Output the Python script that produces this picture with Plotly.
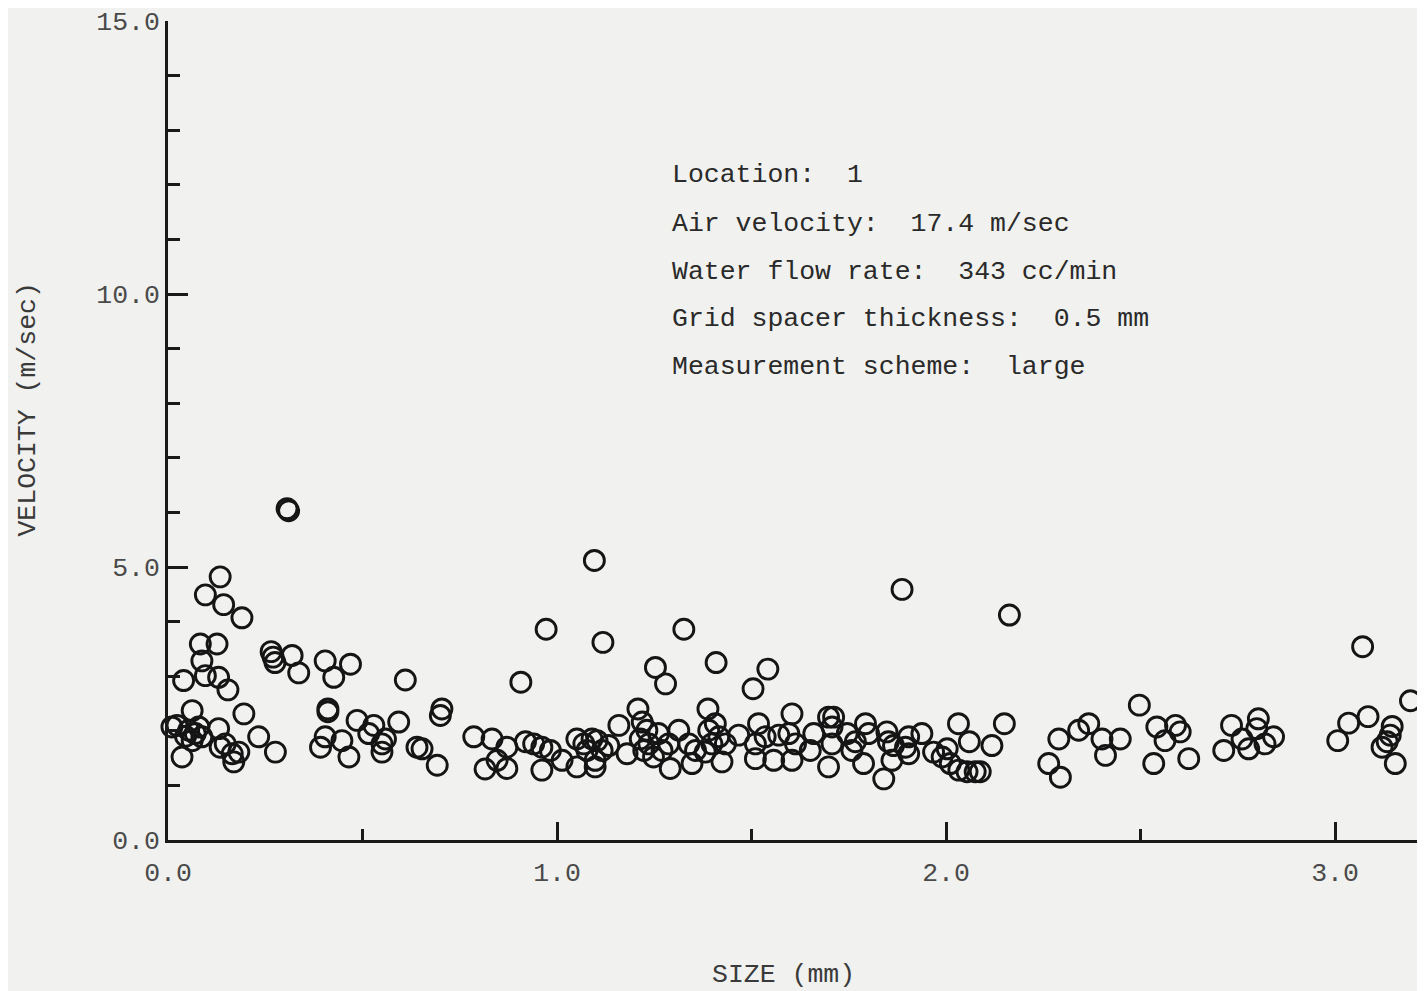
import plotly.graph_objects as go

size_mm = [
    0.310, 0.306, 0.134, 0.096, 0.143, 0.190, 0.083, 0.126, 0.087, 0.096, 0.040, 0.130, 0.154,
    0.265, 0.270, 0.275, 0.319, 0.336, 0.404, 0.469, 0.426, 0.610, 0.411, 0.411, 0.486, 0.529,
    0.516, 0.550, 0.593, 0.704, 0.700, 0.786, 0.815, 0.062, 0.023, 0.053, 0.079, 0.087, 0.062,
    0.070, 0.045, 0.036, 0.130, 0.134, 0.165, 0.182, 0.147, 0.169, 0.195, 0.233, 0.276, 0.404,
    0.392, 0.447, 0.465, 0.559, 0.550, 0.640, 0.653, 0.692, 0.010,
    1.096, 0.972, 1.118, 1.326, 0.907, 1.253, 1.279, 1.409, 1.542, 1.504, 1.208, 1.388, 1.604,
    1.698, 1.711, 0.833, 0.871, 0.846, 0.871, 0.919, 0.940, 0.961, 0.961, 0.983, 1.013,
    1.051, 1.069, 1.090, 1.103, 1.051, 1.098, 1.098, 1.077, 1.116, 1.133, 1.159, 1.180,
    1.219, 1.231, 1.214, 1.236, 1.223, 1.248, 1.261, 1.287, 1.270, 1.291, 1.313, 1.339, 1.356, 1.347,
    1.390, 1.407, 1.416, 1.398, 1.381, 1.433, 1.424, 1.467, 1.518, 1.510, 1.535, 1.510, 1.557,
    1.570, 1.596, 1.613, 1.604, 1.660, 1.651, 1.698, 1.707,
    1.887, 2.163, 2.497, 2.032, 2.150, 2.060, 2.118, 1.707, 1.793, 1.801, 1.746, 1.767, 1.758,
    1.848, 1.852, 1.865, 1.904, 1.896, 1.938, 1.904, 1.788, 1.840, 1.861, 1.968, 2.003, 1.990,
    2.011, 2.033, 2.054, 2.075, 2.088, 2.290, 2.264, 2.294, 2.341, 2.367, 2.401, 2.410, 2.448,
    2.542, 2.563, 2.590, 2.602, 2.534, 2.624, 2.714, 2.734, 2.761, 2.778, 2.803, 2.799, 2.820, 2.842,
    3.071, 3.194, 3.007, 3.035, 3.085, 3.147, 3.142, 3.134, 3.121, 3.155,
]

velocity = [
    6.03, 6.07, 4.82, 4.49, 4.31, 4.07, 3.59, 3.59, 3.28, 3.01, 2.92, 2.98, 2.75,
    3.45, 3.35, 3.25, 3.38, 3.06, 3.28, 3.22, 2.98, 2.93, 2.40, 2.35, 2.19, 2.10,
    1.95, 1.76, 2.16, 2.40, 2.28, 1.89, 1.30, 2.37, 2.10, 2.01, 2.07, 1.89, 1.82,
    1.95, 1.90, 1.52, 2.04, 1.70, 1.58, 1.61, 1.76, 1.43, 2.31, 1.89, 1.61, 1.89,
    1.70, 1.82, 1.52, 1.85, 1.61, 1.70, 1.67, 1.37, 2.07,
    5.12, 3.86, 3.62, 3.86, 2.89, 3.16, 2.86, 3.25, 3.13, 2.77, 2.40, 2.40, 2.31,
    2.25, 2.25, 1.85, 1.70, 1.46, 1.31, 1.80, 1.76, 1.70, 1.28, 1.64, 1.46,
    1.85, 1.76, 1.85, 1.82, 1.34, 1.34, 1.46, 1.64, 1.64, 1.73, 2.10, 1.58,
    2.16, 2.01, 1.85, 1.76, 1.64, 1.52, 1.95, 1.76, 1.64, 1.31, 2.01, 1.76, 1.64, 1.40,
    2.01, 2.13, 1.89, 1.76, 1.61, 1.76, 1.43, 1.92, 2.13, 1.76, 1.89, 1.49, 1.46,
    1.92, 1.95, 1.76, 1.46, 1.95, 1.64, 1.34, 1.76,
    4.59, 4.12, 2.47, 2.13, 2.13, 1.80, 1.73, 2.07, 2.13, 1.95, 1.95, 1.80, 1.64,
    1.98, 1.80, 1.73, 1.89, 1.70, 1.95, 1.58, 1.40, 1.12, 1.46, 1.61, 1.67, 1.52,
    1.40, 1.28, 1.25, 1.25, 1.25, 1.85, 1.40, 1.15, 2.01, 2.13, 1.85, 1.55, 1.85,
    2.07, 1.82, 2.10, 1.98, 1.40, 1.49, 1.64, 2.10, 1.85, 1.67, 2.22, 2.04, 1.76, 1.89,
    3.54, 2.55, 1.82, 2.14, 2.26, 2.08, 1.92, 1.80, 1.70, 1.40,
]

x_ticks = [0.0, 1.0, 2.0, 3.0]
x_tick_labels = ["0.0", "1.0", "2.0", "3.0"]
y_ticks = [0.0, 5.0, 10.0, 15.0]
y_tick_labels = ["0.0", "5.0", "10.0", "15.0"]

info_lines = [
    "Location:  1",
    "Air velocity:  17.4 m/sec",
    "Water flow rate:  343 cc/min",
    "Grid spacer thickness:  0.5 mm",
    "Measurement scheme:  large",
]

FONT = "Liberation Mono, Courier New, monospace"
BG = "#f1f1ef"
FS = 26.5

# page body has an 8px margin; the figure is sized so it ends at the window edge
OFF = 8
W, H = 1425 - OFF, 991 - OFF
ML, MR, MT, MB = 168 - OFF, 0, 18 - OFF, H - (840 - OFF)
PW, PH = W - ML - MR, H - MT - MB

def px_x(p):
    return (p - OFF - ML) / PW

def px_y(p):
    return (H - MB - (p - OFF)) / PH

fig = go.Figure()
fig.add_trace(go.Scatter(
    x=size_mm, y=velocity, mode="markers",
    marker=dict(symbol="circle-open", size=20, color="#151515", line=dict(width=2.9, color="#151515")),
    cliponaxis=False, showlegend=False,
))

x_max = PW / 389.0
EPS = 1e-4

fig.update_layout(
    width=W, height=H,
    margin=dict(l=ML, r=MR, t=MT, b=MB),
    paper_bgcolor=BG, plot_bgcolor=BG,
    font=dict(family=FONT, size=FS, color="#4a4a4a"),
    xaxis=dict(
        range=[-EPS, x_max], showgrid=False, zeroline=False,
        showline=True, linecolor="#1a1a1a", linewidth=2.5,
        tickmode="array", tickvals=x_ticks, ticktext=x_tick_labels,
        ticks="inside", ticklen=18, tickwidth=2.5, tickcolor="#1a1a1a",
        minor=dict(ticks="inside", dtick=0.5, ticklen=11, tickwidth=2.5, tickcolor="#1a1a1a"),
        tickfont=dict(family=FONT, size=FS, color="#4a4a4a"),
        ticklabelstandoff=6, ticklabeloverflow="allow",
    ),
    yaxis=dict(
        range=[-EPS, 15 + EPS], showgrid=False, zeroline=False,
        showline=True, linecolor="#1a1a1a", linewidth=2.5,
        tickmode="array", tickvals=y_ticks, ticktext=y_tick_labels,
        ticks="inside", ticklen=20, tickwidth=2.5, tickcolor="#1a1a1a",
        minor=dict(ticks="inside", dtick=1, ticklen=12, tickwidth=2.5, tickcolor="#1a1a1a"),
        tickfont=dict(family=FONT, size=FS, color="#4a4a4a"),
        ticklabelstandoff=0, ticklabeloverflow="allow",
    ),
)

line_y = [173, 222, 270, 317, 365]
for txt, py in zip(info_lines, line_y):
    fig.add_annotation(
        x=px_x(670), y=px_y(py), xref="paper", yref="paper",
        text=txt, showarrow=False, xanchor="left", yanchor="middle",
        font=dict(family=FONT, size=FS, color="#2a2a2a"),
    )

fig.add_annotation(
    x=px_x(783), y=px_y(975), xref="paper", yref="paper",
    text="SIZE (mm)", showarrow=False, xanchor="center", yanchor="middle",
    font=dict(family=FONT, size=FS, color="#3a3a3a"),
)
fig.add_annotation(
    x=px_x(28), y=px_y(408), xref="paper", yref="paper",
    text="VELOCITY (m/sec)", showarrow=False, xanchor="center", yanchor="middle",
    textangle=-90,
    font=dict(family=FONT, size=FS, color="#3a3a3a"),
)

fig.write_html("out.html")
